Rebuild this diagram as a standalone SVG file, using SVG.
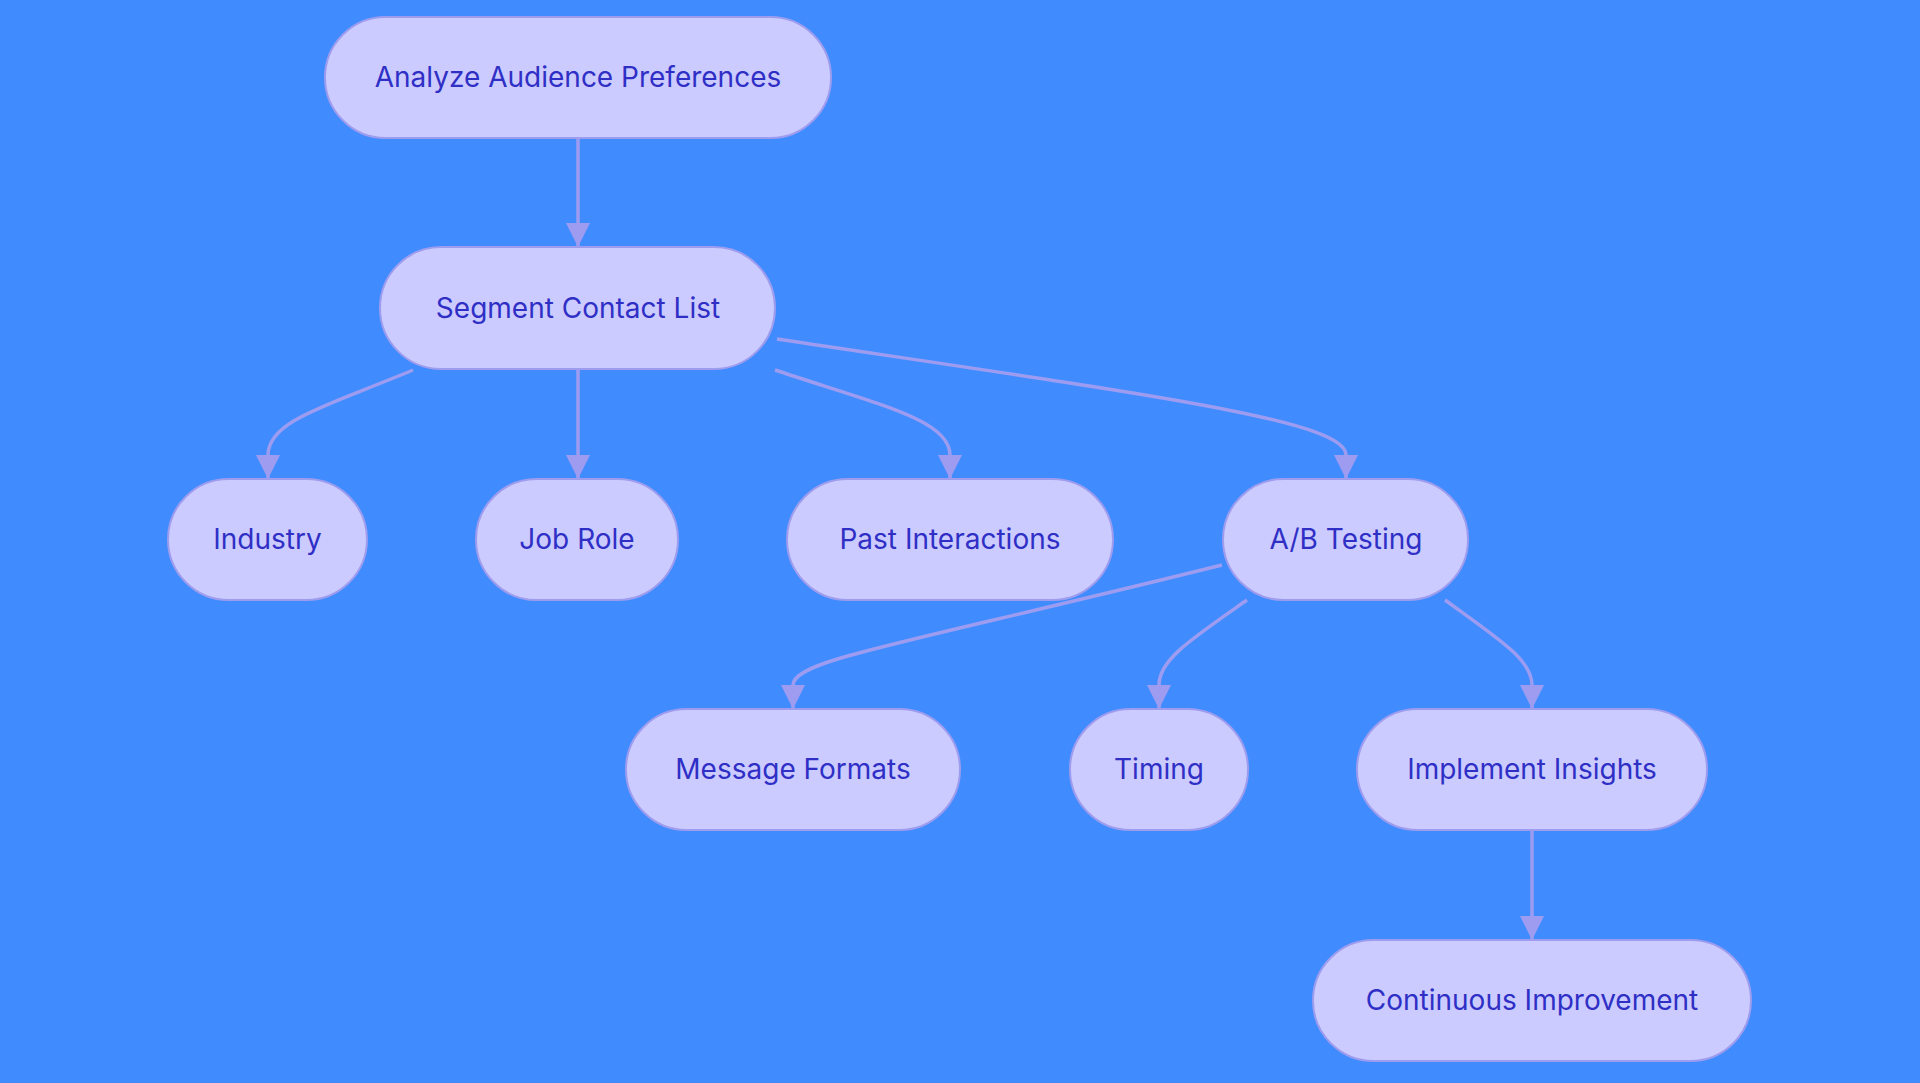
<svg xmlns="http://www.w3.org/2000/svg" width="1920" height="1083" viewBox="0 0 1920 1083">
<style>
.n rect{fill:#cbcbff;stroke:#9d9cee;stroke-width:2}
.n text{font-family:Inter,"Noto Sans",sans-serif;font-size:28px;fill:#2f2fc6;text-anchor:middle;dominant-baseline:central}
.e path{fill:none;stroke:#9d9cf0;stroke-width:3.5;marker-end:url(#a)}
</style>
<defs><marker id="a" markerUnits="userSpaceOnUse" viewBox="0 0 24 24" refX="24" refY="12" markerWidth="24" markerHeight="24" orient="auto"><path d="M0,0L24,12L0,24z" fill="#9d9cf0"/></marker></defs>
<rect width="1920" height="1083" fill="#408cff"/>
<g id="connectors" class="e">
<path d="M578,138L578,247"/>
<path d="M413,370C330,405 268,420 268,455L268,479"/>
<path d="M578,369L578,479"/>
<path d="M775,370C880,405 950,420 950,455L950,479"/>
<path d="M777,339C1150,395 1346,420 1346,455L1346,479"/>
<path d="M1222,565C900,645 793,660 793,685L793,709"/>
<path d="M1247,600C1190,640 1159,660 1159,685L1159,709"/>
<path d="M1445,600C1500,640 1532,660 1532,685L1532,709"/>
<path d="M1532,830L1532,940"/>
</g>
<g id="n1" class="n"><rect x="325" y="17" width="506" height="121" rx="60.5"/><text x="578" y="77">Analyze Audience Preferences</text></g>
<g id="n2" class="n"><rect x="380" y="247" width="395" height="122" rx="61"/><text x="578" y="308">Segment Contact List</text></g>
<g id="n3" class="n"><rect x="168" y="479" width="199" height="121" rx="60.5"/><text x="267.5" y="539">Industry</text></g>
<g id="n4" class="n"><rect x="476" y="479" width="202" height="121" rx="60.5"/><text x="577" y="539">Job Role</text></g>
<g id="n5" class="n"><rect x="787" y="479" width="326" height="121" rx="60.5"/><text x="950" y="539">Past Interactions</text></g>
<g id="n6" class="n"><rect x="1223" y="479" width="245" height="121" rx="60.5"/><text x="1346" y="539">A/B Testing</text></g>
<g id="n7" class="n"><rect x="626" y="709" width="334" height="121" rx="60.5"/><text x="793" y="769">Message Formats</text></g>
<g id="n8" class="n"><rect x="1070" y="709" width="178" height="121" rx="60.5"/><text x="1159" y="769">Timing</text></g>
<g id="n9" class="n"><rect x="1357" y="709" width="350" height="121" rx="60.5"/><text x="1532" y="769">Implement Insights</text></g>
<g id="n10" class="n"><rect x="1313" y="940" width="438" height="121" rx="60.5"/><text x="1532" y="1000">Continuous Improvement</text></g>
</svg>
